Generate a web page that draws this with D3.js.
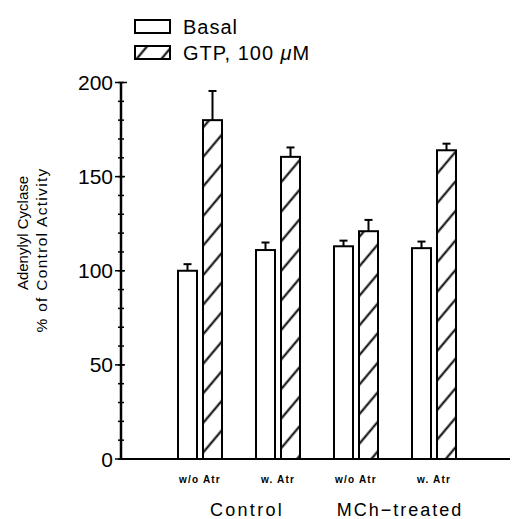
<!DOCTYPE html>
<html lang="en">
<head>
<meta charset="UTF-8">
<title>Adenylyl Cyclase activity</title>
<script src="https://d3js.org/d3.v7.min.js"></script>
<style>
    body { margin: 0; background: #ffffff; }
    svg { display: block; font-family: 'Liberation Sans', Arial, sans-serif; }
    .bar { stroke: #000; stroke-width: 2px; }
    .err { stroke: #000; stroke-width: 2px; }
    .tick-label { font-size: 21px; }
</style>
</head>
<body>
<div id="chart"></div>
<script>
    // data
    const groups = ["Control w/o Atr", "Control w. Atr", "MCh w/o Atr", "MCh w. Atr"];
    const groupLabels = ["w/o Atr", "w. Atr", "w/o Atr", "w. Atr"];
    const basal = [100, 111, 113, 112];
    const basalErr = [3.5, 4, 3, 3.5];
    const gtp = [180, 160.5, 121, 164];
    const gtpErr = [15.5, 5, 6, 3.5];
    const yTicks = [0, 50, 100, 150, 200];

    const width = 513, height = 519;
    const svg = d3.select("#chart").append("svg")
        .attr("width", width).attr("height", height);

    // hatch pattern for GTP bars
    const defs = svg.append("defs");
    defs.append("pattern")
        .attr("id", "hatch")
        .attr("patternUnits", "userSpaceOnUse")
        .attr("width", 19).attr("height", 19)
        .attr("patternTransform", "rotate(40)")
        .call(p => {
            p.append("rect").attr("width", 19).attr("height", 19).attr("fill", "#fff");
            p.append("line").attr("x1", 9.5).attr("x2", 9.5).attr("y1", 0).attr("y2", 19)
                .attr("stroke", "#000").attr("stroke-width", 2);
        });

    const x = d3.scalePoint().domain(groups).range([122, 512]).padding(1);
    const y = d3.scaleLinear().domain([0, 200]).range([459, 82.5]);

    const barW = 19, inner = 3;

    // y axis
    const axisX = 121;
    svg.append("line").attr("x1", axisX).attr("x2", axisX)
        .attr("y1", y(200)).attr("y2", y(0))
        .attr("stroke", "#000").attr("stroke-width", 2.5);
    svg.selectAll(".minor").data(d3.range(0, 201, 10)).enter().append("line")
        .attr("x1", axisX - 3).attr("x2", axisX + 3)
        .attr("y1", d => y(d)).attr("y2", d => y(d))
        .attr("stroke", "#000").attr("stroke-width", 1.5);
    svg.selectAll(".major").data(yTicks).enter().append("line")
        .attr("x1", axisX - 6).attr("x2", d => d === 200 ? axisX + 6 : axisX + 4)
        .attr("y1", d => y(d)).attr("y2", d => y(d))
        .attr("stroke", "#000").attr("stroke-width", 1.5);
    svg.selectAll(".ylab").data(yTicks).enter().append("text")
        .attr("class", "tick-label")
        .attr("x", 113).attr("y", d => y(d) + 7.5)
        .attr("text-anchor", "end")
        .text(d => d);

    // x axis
    svg.append("line").attr("x1", axisX).attr("x2", 510)
        .attr("y1", y(0)).attr("y2", y(0))
        .attr("stroke", "#000").attr("stroke-width", 1.8);

    // bars
    const g = svg.append("g");
    g.selectAll(".basal").data(groups).enter().append("rect")
        .attr("class", "bar")
        .attr("x", d => x(d) - inner - barW)
        .attr("y", (d, i) => y(basal[i]))
        .attr("width", barW)
        .attr("height", (d, i) => y(0) - y(basal[i]))
        .attr("fill", "#fff");
    g.selectAll(".gtp").data(groups).enter().append("rect")
        .attr("class", "bar")
        .attr("x", d => x(d) + inner)
        .attr("y", (d, i) => y(gtp[i]))
        .attr("width", barW)
        .attr("height", (d, i) => y(0) - y(gtp[i]))
        .attr("fill", "url(#hatch)");

    // error bars (upper only)
    function errBars(vals, errs, cx) {
        groups.forEach((d, i) => {
            const c = cx(d);
            g.append("line").attr("class", "err")
                .attr("x1", c).attr("x2", c)
                .attr("y1", y(vals[i])).attr("y2", y(vals[i] + errs[i]));
            g.append("line").attr("class", "err")
                .attr("x1", c - 4).attr("x2", c + 4)
                .attr("y1", y(vals[i] + errs[i])).attr("y2", y(vals[i] + errs[i]));
        });
    }
    errBars(basal, basalErr, d => x(d) - inner - barW / 2);
    errBars(gtp, gtpErr, d => x(d) + inner + barW / 2);

    // category labels
    svg.selectAll(".xlab").data(groups).enter().append("text")
        .attr("x", d => x(d)).attr("y", 483)
        .attr("text-anchor", "middle")
        .attr("font-size", 10).attr("font-weight", "bold")
        .attr("letter-spacing", 1.2)
        .text((d, i) => groupLabels[i]);

    svg.append("text").attr("x", 247).attr("y", 516)
        .attr("text-anchor", "middle").attr("font-size", 18)
        .attr("letter-spacing", 2.3).text("Control");
    svg.append("text").attr("x", 400).attr("y", 516)
        .attr("text-anchor", "middle").attr("font-size", 18)
        .attr("letter-spacing", 2).text("MCh\u2212treated");

    // y axis title
    svg.append("text")
        .attr("transform", "translate(28,233) rotate(-90)")
        .attr("text-anchor", "middle").attr("font-size", 15)
        .text("Adenylyl Cyclase");
    svg.append("text")
        .attr("transform", "translate(47,250) rotate(-90)")
        .attr("text-anchor", "middle").attr("font-size", 15.5)
        .attr("letter-spacing", 1.3)
        .text("% of Control Activity");

    // legend
    const legend = svg.append("g");
    legend.append("rect").attr("x", 135).attr("y", 20).attr("width", 35).attr("height", 13)
        .attr("fill", "#fff").attr("stroke", "#000").attr("stroke-width", 2);
    legend.append("text").attr("x", 183).attr("y", 34).attr("font-size", 20)
        .attr("letter-spacing", 1).text("Basal");
    legend.append("rect").attr("x", 135).attr("y", 46).attr("width", 35).attr("height", 13)
        .attr("fill", "url(#hatch)").attr("stroke", "#000").attr("stroke-width", 2);
    const t2 = legend.append("text").attr("x", 183).attr("y", 60).attr("font-size", 20)
        .attr("letter-spacing", 1);
    t2.append("tspan").text("GTP, 100 ");
    t2.append("tspan").attr("font-style", "italic").text("\u03bc");
    t2.append("tspan").text("M");
</script>
</body>
</html>
